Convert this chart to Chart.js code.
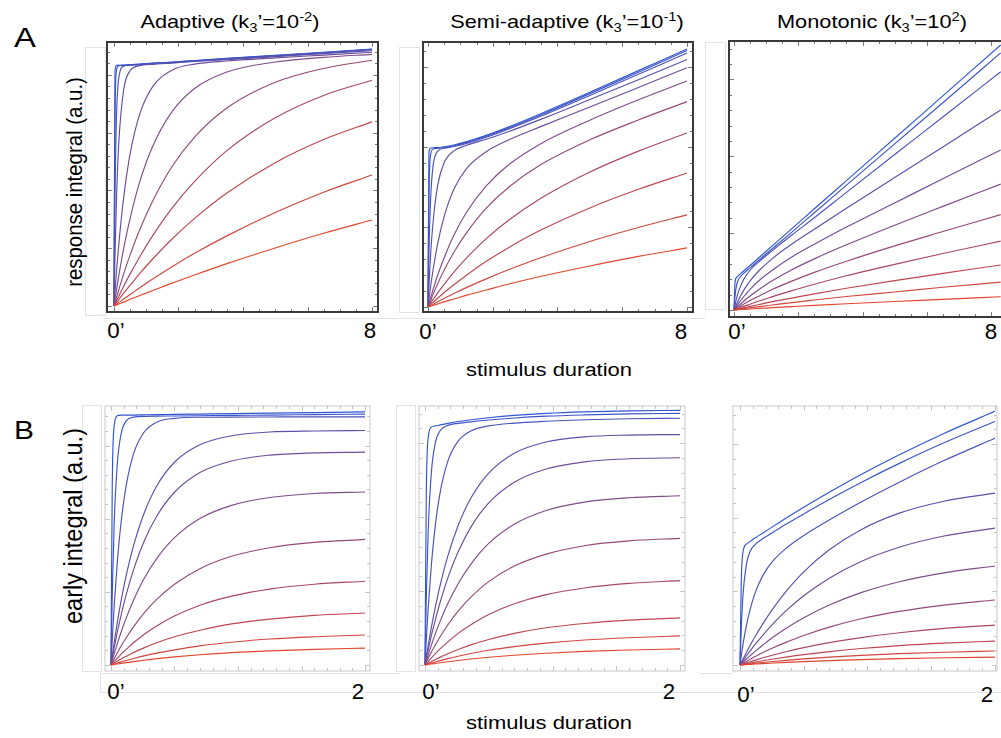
<!DOCTYPE html>
<html>
<head>
<meta charset="utf-8">
<script src="https://cdn.jsdelivr.net/npm/chart.js@4.4.0/dist/chart.umd.min.js"></script>
<style>
  body { margin: 0; width: 1001px; height: 738px; overflow: hidden; background: #fff; position: relative;
         font-family: "Liberation Sans", Arial, sans-serif; color: #000; }
  canvas { position: absolute; }
  .lbl { position: absolute; white-space: nowrap; line-height: 1; transform: translate(-50%, -50%) scaleX(1.17); }
  .num { position: absolute; white-space: nowrap; line-height: 1; transform: translate(-50%, -50%); font-size: 22.3px; }
  .ylab { position: absolute; white-space: nowrap; line-height: 1; transform: translate(-50%, -50%) scaleX(1.12) rotate(-90deg); }
  .box { position: absolute; border: 1px solid #e4e4e4; box-sizing: border-box; }
  .hl { position: absolute; height: 0; border-top: 1px solid #e2e2e2; }
  .vl { position: absolute; width: 0; border-left: 1px solid #e2e2e2; }
  sub, sup { font-size: 0.68em; line-height: 0; }
</style>
</head>
<body>

<div class="box" style="left:85px;top:47px;width:21px;height:269px"></div>
<div class="box" style="left:399px;top:47px;width:21px;height:266px"></div>
<div class="box" style="left:705px;top:42px;width:21px;height:268px"></div>
<div class="hl" style="left:103px;top:318px;width:602px"></div>
<div class="box" style="left:82px;top:405px;width:20px;height:267px"></div>
<div class="box" style="left:396px;top:405px;width:20px;height:267px"></div>
<div class="hl" style="left:100px;top:692px;width:901px"></div>
<div class="vl" style="left:100px;top:673px;height:19px"></div>
<div class="hl" style="left:100px;top:673px;width:300px"></div>
<div class="hl" style="left:700px;top:673px;width:32px"></div>

<div class="lbl" style="left:25px;top:38px;font-size:28px">A</div>
<div class="lbl" style="left:24px;top:431px;font-size:25.6px">B</div>

<div class="lbl" style="left:230px;top:22px;font-size:18.6px">Adaptive (k<sub>3</sub>’=10<sup>-2</sup>)</div>
<div class="lbl" style="left:567px;top:22px;font-size:18.6px">Semi-adaptive (k<sub>3</sub>’=10<sup>-1</sup>)</div>
<div class="lbl" style="left:872px;top:22px;font-size:18.6px">Monotonic (k<sub>3</sub>’=10<sup>2</sup>)</div>

<div class="ylab" style="left:74px;top:182px;font-size:20.4px">response integral (a.u.)</div>
<div class="ylab" style="left:74px;top:526px;font-size:23.5px">early integral (a.u.)</div>

<div class="num" style="left:116px;top:331px">0’</div>
<div class="num" style="left:370px;top:331px">8</div>
<div class="num" style="left:428px;top:332px">0’</div>
<div class="num" style="left:681px;top:332px">8</div>
<div class="num" style="left:737px;top:332px">0’</div>
<div class="num" style="left:991px;top:332px">8</div>
<div class="lbl" style="left:549px;top:370px;font-size:18.8px">stimulus duration</div>

<div class="num" style="left:116px;top:692px">0’</div>
<div class="num" style="left:358px;top:692px">2</div>
<div class="num" style="left:431px;top:692px">0’</div>
<div class="num" style="left:669px;top:692px">2</div>
<div class="num" style="left:746px;top:695px">0’</div>
<div class="num" style="left:987px;top:695px">2</div>
<div class="lbl" style="left:549px;top:723px;font-size:18.8px">stimulus duration</div>

<script>
// stimulus durations sampled for each row
const timesA = [0, 0.03, 0.08, 0.15, 0.3, 0.5, 0.8, 1.2, 1.8, 2.5, 3.5, 5, 6.5, 8];
const timesA3 = [0, 0.03, 0.08, 0.15, 0.3, 0.5, 0.8, 1.2, 1.8, 2.5, 3.5, 5, 6.5, 8.3];
const timesB = [0, 0.01, 0.025, 0.05, 0.08, 0.12, 0.18, 0.26, 0.36, 0.5, 0.7, 0.95, 1.25, 1.6, 2];

// response integral, adaptive (slowest/red first, fastest/blue last)
const responseAdaptive = [
  [0, 0.16, 0.4, 0.8, 1.5, 2.6, 4.1, 6.0, 8.9, 12.1, 16.5, 22.6, 28.3, 33.5],
  [0, 0.3, 0.7, 1.4, 2.7, 4.5, 7.1, 10.5, 15.3, 20.5, 27.3, 36.4, 44.3, 51.0],
  [0, 0.5, 1.4, 2.5, 5.0, 8.1, 12.7, 18.3, 26.1, 34.1, 44.0, 55.8, 64.8, 71.7],
  [0, 0.8, 2.1, 3.9, 7.7, 12.5, 19.2, 27.4, 38.1, 48.5, 60.5, 73.3, 82.0, 87.9],
  [0, 1.3, 3.5, 6.4, 12.5, 19.9, 29.8, 40.9, 54.3, 65.8, 77.1, 87.1, 92.5, 95.7],
  [0, 2.5, 6.5, 11.9, 22.3, 34.1, 48.4, 62.2, 75.7, 84.7, 91.1, 95.0, 96.8, 98.0],
  [0, 5.4, 13.8, 24.2, 42.2, 59.2, 74.8, 85.4, 91.8, 94.2, 95.4, 96.6, 97.7, 98.8],
  [0, 19.2, 42.9, 63.9, 84.2, 91.6, 93.6, 94.1, 94.6, 95.2, 95.9, 97.1, 98.3, 99.4],
  [0, 42.1, 74.6, 88.9, 93.4, 93.8, 94.0, 94.4, 94.8, 95.4, 96.2, 97.4, 98.6, 99.8],
  [0, 72.6, 91.9, 93.6, 93.7, 93.9, 94.1, 94.5, 94.9, 95.5, 96.3, 97.5, 98.7, 99.9],
  [0, 91.4, 93.7, 93.7, 93.8, 94.0, 94.2, 94.6, 95.0, 95.6, 96.4, 97.6, 98.8, 100.0]
];

const responseSemi = [
  [0, 0.12, 0.32, 0.6, 1.2, 2.0, 3.1, 4.6, 6.6, 8.9, 11.9, 15.9, 19.6, 22.9],
  [0, 0.2, 0.55, 1.0, 2.0, 3.3, 5.2, 7.6, 10.9, 14.5, 19.2, 25.4, 30.8, 35.7],
  [0, 0.35, 0.9, 1.7, 3.4, 5.6, 8.6, 12.4, 17.7, 23.1, 29.9, 38.4, 45.6, 51.9],
  [0, 0.6, 1.5, 2.8, 5.5, 8.8, 13.5, 19.1, 26.5, 33.7, 42.2, 52.3, 60.4, 67.4],
  [0, 1.0, 2.5, 4.7, 9.0, 14.3, 21.2, 28.9, 38.3, 46.5, 55.3, 64.8, 72.5, 79.6],
  [0, 1.4, 3.5, 6.5, 12.4, 19.1, 27.8, 36.9, 46.9, 55.2, 63.4, 72.4, 80.3, 87.6],
  [0, 3.1, 7.9, 13.8, 24.6, 35.1, 45.6, 53.8, 60.2, 64.8, 70.0, 77.5, 85.1, 92.7],
  [0, 8.4, 20.0, 31.9, 47.2, 56.0, 60.5, 62.7, 65.0, 68.0, 72.8, 80.4, 88.1, 95.9],
  [0, 21.3, 41.5, 54.0, 60.4, 61.5, 62.2, 63.4, 65.8, 69.0, 74.0, 82.0, 90.2, 98.4],
  [0, 42.8, 58.8, 61.2, 61.5, 61.8, 62.5, 63.8, 66.2, 69.4, 74.5, 82.7, 91.0, 99.4],
  [0, 60.1, 61.6, 61.7, 61.8, 62.1, 62.8, 64.1, 66.5, 69.8, 75.0, 83.2, 91.6, 100.0]
];

const responseMono = [
  [0, 0.02, 0.06, 0.11, 0.23, 0.38, 0.59, 0.89, 1.29, 1.75, 2.36, 3.2, 4.0, 5.0],
  [0, 0.05, 0.13, 0.25, 0.5, 0.82, 1.3, 1.9, 2.8, 3.76, 5.1, 6.8, 8.6, 10.5],
  [0, 0.08, 0.23, 0.43, 0.83, 1.37, 2.14, 3.15, 4.5, 6.1, 8.2, 11.1, 13.8, 17.0],
  [0, 0.14, 0.37, 0.69, 1.36, 2.2, 3.5, 5.05, 7.3, 9.7, 12.9, 17.2, 21.3, 26.0],
  [0, 0.22, 0.62, 1.1, 2.2, 3.6, 5.4, 7.8, 10.9, 14.2, 18.4, 24.2, 29.6, 36.0],
  [0, 0.37, 0.93, 1.7, 3.3, 5.3, 7.9, 11.1, 15.2, 19.3, 24.6, 32.0, 39.1, 47.5],
  [0, 0.5, 1.4, 2.7, 5.0, 7.8, 11.3, 15.1, 20.0, 24.8, 31.3, 40.4, 49.5, 60.4],
  [0, 0.9, 2.25, 4.1, 7.4, 11.0, 15.1, 19.5, 24.9, 30.5, 38.4, 50.0, 61.5, 75.5],
  [0, 1.8, 4.5, 7.3, 11.5, 15.0, 18.5, 22.5, 28.3, 34.8, 44.4, 58.7, 72.8, 89.9],
  [0, 5.1, 9.4, 11.7, 13.8, 15.9, 19.1, 23.2, 29.4, 36.7, 47.1, 62.7, 78.2, 97.0],
  [0, 10.3, 12.3, 13.1, 14.7, 16.8, 20.0, 24.3, 30.7, 38.2, 48.8, 64.8, 80.8, 100.0]
];

// early integral
const earlyAdaptive = [
  [0, 0.08, 0.2, 0.4, 0.64, 0.94, 1.36, 1.9, 2.5, 3.2, 4.05, 4.9, 5.6, 6.2, 6.7],
  [0, 0.16, 0.4, 0.79, 1.24, 1.8, 2.6, 3.6, 4.7, 6.0, 7.6, 9.0, 10.3, 11.2, 11.9],
  [0, 0.31, 0.77, 1.5, 2.4, 3.45, 5.0, 6.8, 8.8, 11.2, 13.8, 16.3, 18.2, 19.7, 20.6],
  [0, 0.57, 1.4, 2.75, 4.3, 6.2, 8.9, 12.1, 15.5, 19.4, 23.7, 27.3, 30.1, 32.0, 33.2],
  [0, 1.0, 2.5, 4.8, 7.5, 10.8, 15.3, 20.6, 26.0, 32.0, 38.2, 43.1, 46.5, 48.6, 49.8],
  [0, 1.8, 4.4, 8.5, 13.1, 18.7, 26.0, 34.2, 42.2, 50.5, 58.1, 63.3, 66.4, 68.0, 68.6],
  [0, 2.8, 6.8, 13.0, 19.8, 27.9, 38.1, 49.0, 59.0, 68.5, 76.3, 80.9, 83.2, 84.1, 84.4],
  [0, 3.6, 8.9, 16.9, 25.5, 35.5, 47.7, 60.1, 71.0, 80.4, 87.3, 90.9, 92.4, 92.8, 93.0],
  [0, 10.0, 23.2, 40.9, 56.7, 71.2, 84.1, 92.3, 96.3, 97.8, 98.25, 98.3, 98.35, 98.4, 98.4],
  [0, 27.9, 55.7, 79.9, 91.7, 96.8, 98.3, 98.6, 98.7, 98.75, 98.85, 99.0, 99.1, 99.3, 99.5],
  [0, 70.6, 94.7, 98.8, 99.1, 99.1, 99.1, 99.2, 99.3, 99.35, 99.5, 99.7, 99.9, 100.1, 100.4]
];

const earlySemi = [
  [0, 0.08, 0.19, 0.38, 0.6, 0.89, 1.29, 1.78, 2.34, 3.03, 3.84, 4.63, 5.33, 5.9, 6.33],
  [0, 0.15, 0.38, 0.75, 1.18, 1.73, 2.5, 3.44, 4.5, 5.8, 7.2, 8.6, 9.8, 10.7, 11.4],
  [0, 0.28, 0.69, 1.35, 2.1, 3.1, 4.4, 6.1, 7.9, 10.0, 12.4, 14.6, 16.3, 17.6, 18.5],
  [0, 0.58, 1.44, 2.8, 4.4, 6.4, 9.1, 12.4, 15.8, 19.8, 24.0, 27.6, 30.2, 32.0, 33.1],
  [0, 1.04, 2.6, 5.0, 7.75, 11.2, 15.8, 21.1, 26.6, 32.7, 38.8, 43.5, 46.8, 48.7, 49.7],
  [0, 1.65, 4.0, 7.8, 12.1, 17.3, 24.2, 31.9, 39.6, 47.7, 55.2, 60.6, 63.9, 65.6, 66.4],
  [0, 2.4, 5.9, 11.5, 17.5, 24.8, 34.3, 44.4, 54.1, 63.6, 71.7, 76.9, 79.7, 80.9, 81.3],
  [0, 3.2, 7.7, 14.8, 22.5, 31.5, 42.9, 54.7, 65.5, 75.3, 83.1, 87.5, 89.5, 90.2, 90.4],
  [0, 9.7, 22.3, 39.2, 54.3, 68.0, 80.1, 87.8, 91.8, 93.8, 94.9, 95.6, 96.2, 96.6, 96.8],
  [0, 26.3, 52.6, 75.5, 86.9, 92.0, 94.0, 94.8, 95.4, 96.1, 96.9, 97.6, 98.1, 98.5, 98.7],
  [0, 66.4, 89.1, 93.3, 93.8, 94.2, 94.8, 95.5, 96.2, 97.0, 97.9, 98.7, 99.3, 99.7, 99.9]
];

const earlyMono = [
  [0, 0.03, 0.08, 0.16, 0.26, 0.38, 0.56, 0.78, 1.03, 1.35, 1.74, 2.14, 2.51, 2.84, 3.1],
  [0, 0.06, 0.15, 0.29, 0.46, 0.68, 0.99, 1.38, 1.83, 2.4, 3.09, 3.8, 4.46, 5.04, 5.5],
  [0, 0.1, 0.25, 0.5, 0.79, 1.16, 1.69, 2.36, 3.13, 4.1, 5.28, 6.49, 7.62, 8.6, 9.4],
  [0, 0.17, 0.42, 0.83, 1.31, 1.94, 2.83, 3.94, 5.23, 6.85, 8.8, 10.8, 12.7, 14.4, 15.7],
  [0, 0.29, 0.73, 1.44, 2.28, 3.35, 4.9, 6.8, 8.9, 11.6, 14.9, 18.2, 21.1, 23.6, 25.6],
  [0, 0.48, 1.2, 2.36, 3.7, 5.45, 7.9, 11.0, 14.4, 18.6, 23.6, 28.5, 32.8, 36.3, 39.0],
  [0, 0.73, 1.81, 3.56, 5.6, 8.2, 11.8, 16.3, 21.3, 27.3, 34.2, 40.8, 46.4, 50.8, 53.9],
  [0, 1.0, 2.5, 4.9, 7.75, 11.3, 16.3, 22.3, 28.9, 36.7, 45.4, 53.3, 59.8, 64.5, 67.7],
  [0, 3.65, 8.6, 15.5, 22.0, 28.6, 35.3, 41.1, 45.9, 51.0, 57.1, 64.2, 72.0, 80.5, 89.3],
  [0, 14.8, 28.6, 39.6, 44.8, 47.5, 49.8, 52.3, 55.4, 59.5, 65.2, 71.9, 79.4, 87.5, 95.9],
  [0, 33.1, 44.9, 47.6, 48.7, 50.1, 52.0, 54.6, 57.8, 62.1, 68.0, 75.0, 82.8, 91.2, 99.9]
];

// red -> purple -> blue
const palette = ['#e0462e', '#d0463f', '#bf4650', '#a94762', '#944a75', '#7f4c88',
                 '#6c4e9a', '#5a50ab', '#4a52bb', '#3c54c8', '#2f55d4'];

// frame + inward ticks, Mathematica style
const frameTicks = {
  id: 'frameTicks',
  afterDraw(chart, args, o) {
    const { ctx, chartArea: a, scales: { x, y } } = chart;
    const isMajor = (v, m) => Math.abs(v / m - Math.round(v / m)) < 1e-6;
    ctx.save();
    ctx.strokeStyle = o.tickColor;
    ctx.lineWidth = 1;
    ctx.beginPath();
    for (let v = 0; v <= x.max + 1e-9; v += o.xStep) {
      const px = Math.round(x.getPixelForValue(v)) + 0.5;
      const len = isMajor(v, o.xMajor) ? o.len * 1.6 : o.len;
      ctx.moveTo(px, a.bottom); ctx.lineTo(px, a.bottom - len);
      ctx.moveTo(px, a.top); ctx.lineTo(px, a.top + len);
    }
    for (let v = 0; v <= y.max + 1e-9; v += o.yStep) {
      const py = Math.round(y.getPixelForValue(v)) + 0.5;
      const len = isMajor(v, o.yMajor) ? o.len * 1.6 : o.len;
      ctx.moveTo(a.left, py); ctx.lineTo(a.left + len, py);
      ctx.moveTo(a.right, py); ctx.lineTo(a.right - len, py);
    }
    ctx.stroke();
    ctx.strokeStyle = o.frameColor;
    ctx.lineWidth = o.frameWidth;
    ctx.strokeRect(a.left, a.top, a.right - a.left, a.bottom - a.top);
    ctx.restore();
  }
};

const dark = { frameColor: '#3a3a3a', frameWidth: 2, tickColor: '#777', len: 3 };
const light = { frameColor: '#c9c9c9', frameWidth: 1, tickColor: '#c4c4c4', len: 3 };

const panels = [
  { frame: [107, 42, 378, 312], x: [-0.217, 8.186], y: [-2.34, 102.8], times: timesA, curves: responseAdaptive,
    ticks: { ...dark, xStep: 0.5, xMajor: 2, yStep: 4.5, yMajor: 22.5 } },
  { frame: [423, 42, 693, 312], x: [-0.154, 8.185], y: [-1.94, 102.7], times: timesA, curves: responseSemi,
    ticks: { ...dark, xStep: 0.5, xMajor: 2, yStep: 6.2, yMajor: 31 } },
  { frame: [729, 41, 1010, 317], x: [-0.156, 8.59], y: [-2.64, 101.5], times: timesA3, curves: responseMono,
    ticks: { ...dark, xStep: 0.5, xMajor: 2, yStep: 5.8, yMajor: 29 } },
  { frame: [105, 406, 370, 671], x: [-0.047, 2.039], y: [-2.38, 102.7], times: timesB, curves: earlyAdaptive,
    ticks: { ...light, xStep: 0.1, xMajor: 0.5, yStep: 5.8, yMajor: 29 } },
  { frame: [419, 406, 685, 671], x: [-0.047, 2.039], y: [-2.35, 101.6], times: timesB, curves: earlySemi,
    ticks: { ...light, xStep: 0.1, xMajor: 0.5, yStep: 5.8, yMajor: 29 } },
  { frame: [733, 406, 997, 671], x: [-0.055, 2.016], y: [-2.36, 102], times: timesB, curves: earlyMono,
    ticks: { ...light, xStep: 0.1, xMajor: 0.5, yStep: 5.8, yMajor: 29 } }
];

function drawPanel(p) {
  const pad = 4;
  const canvas = document.createElement('canvas');
  canvas.width = p.frame[2] - p.frame[0] + pad * 2;
  canvas.height = p.frame[3] - p.frame[1] + pad * 2;
  canvas.style.left = (p.frame[0] - pad) + 'px';
  canvas.style.top = (p.frame[1] - pad) + 'px';
  document.body.appendChild(canvas);

  new Chart(canvas, {
    type: 'line',
    data: {
      datasets: p.curves.map((vals, i) => ({
        data: vals.map((v, j) => ({ x: p.times[j], y: v })),
        borderColor: palette[i],
        borderWidth: 1.15,
        pointRadius: 0,
        fill: false,
        cubicInterpolationMode: 'monotone'
      }))
    },
    options: {
      responsive: false,
      animation: false,
      devicePixelRatio: 1,
      layout: { padding: pad },
      scales: {
        x: { type: 'linear', min: p.x[0], max: p.x[1], display: false },
        y: { type: 'linear', min: p.y[0], max: p.y[1], display: false }
      },
      plugins: {
        legend: { display: false },
        tooltip: { enabled: false },
        frameTicks: p.ticks
      }
    },
    plugins: [frameTicks]
  });
}

panels.forEach(drawPanel);
</script>
</body>
</html>
